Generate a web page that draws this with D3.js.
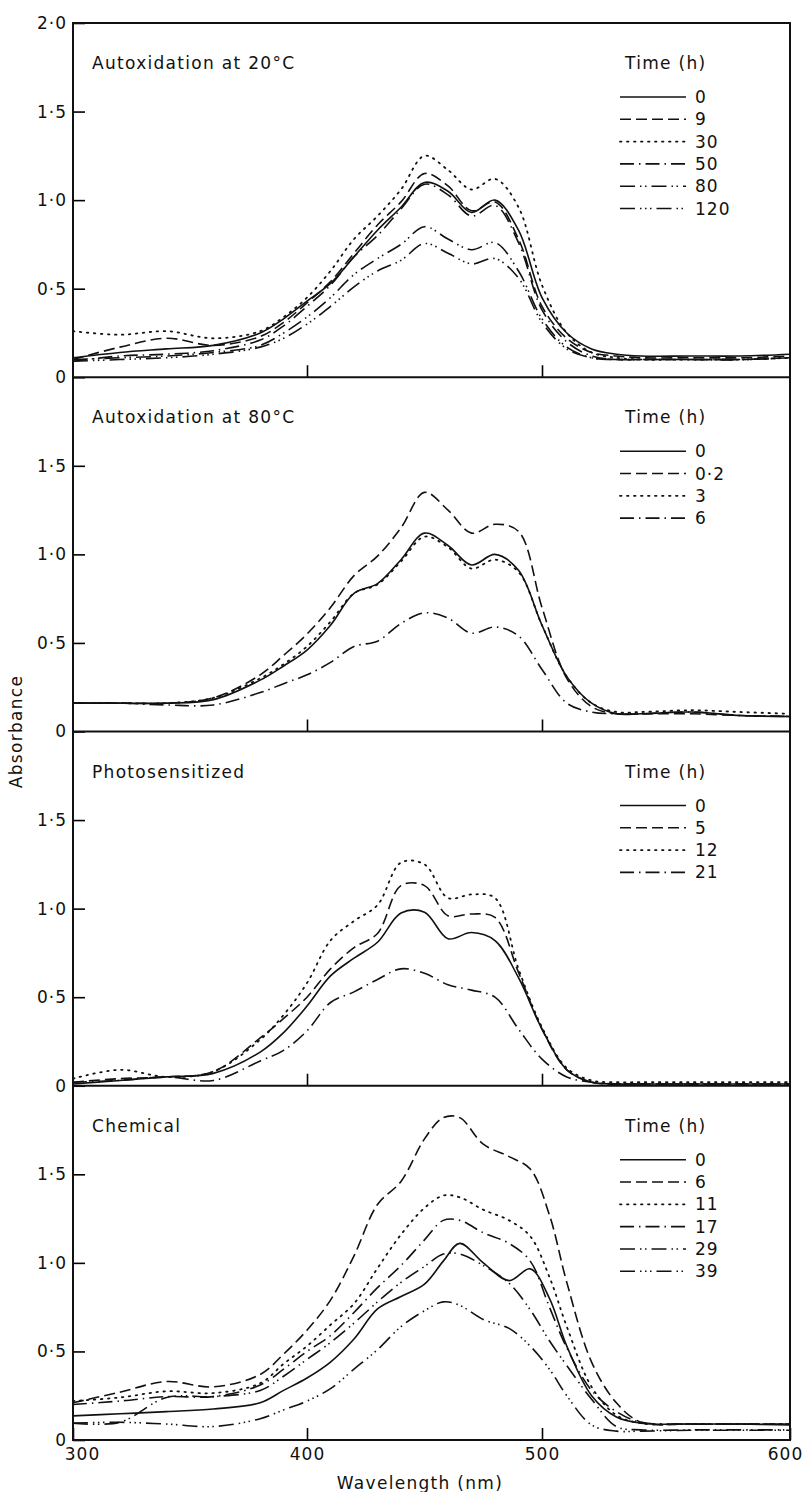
<!DOCTYPE html>
<html>
<head>
<meta charset="utf-8">
<title>Carotenoid bleaching spectra</title>
<script src="https://cdn.jsdelivr.net/npm/d3@7"></script>
<style>
body { margin: 0; background: #fff; }
text { font-family: "DejaVu Sans", sans-serif; fill: #111; }
</style>
</head>
<body>
<script>

// wavelength grid (nm) the curves were read at
var wl = [300, 320, 340, 360, 380, 390, 400, 410, 420, 430, 440, 450, 460, 470, 480, 490, 500, 510, 520, 530, 540, 560, 580, 600];
// chemical panel peaks sit off the 10 nm grid, so it gets its own
var wlChem = [300, 320, 340, 360, 380, 390, 400, 410, 420, 430, 440, 450, 458, 465, 475, 486, 495, 503, 510, 520, 530, 540, 560, 580, 600];

var titles = ["Autoxidation at 20\u00b0C", "Autoxidation at 80\u00b0C", "Photosensitized", "Chemical"];

var times20 = ["0", "9", "30", "50", "80", "120"];
var times80 = ["0", "0\u00b72", "3", "6"];
var timesPhoto = ["0", "5", "12", "21"];
var timesChem = ["0", "6", "11", "17", "29", "39"];

// absorbance, one row per time
var auto20 = [
    [0.11, 0.14, 0.16, 0.18, 0.25, 0.33, 0.43, 0.53, 0.68, 0.83, 0.96, 1.10, 1.05, 0.93, 1.00, 0.83, 0.45, 0.25, 0.16, 0.13, 0.12, 0.12, 0.12, 0.13],
    [0.10, 0.17, 0.22, 0.18, 0.23, 0.31, 0.42, 0.54, 0.70, 0.86, 0.99, 1.15, 1.08, 0.94, 0.99, 0.78, 0.40, 0.22, 0.14, 0.12, 0.11, 0.11, 0.11, 0.12],
    [0.26, 0.24, 0.26, 0.22, 0.26, 0.34, 0.45, 0.60, 0.78, 0.91, 1.06, 1.25, 1.17, 1.06, 1.12, 0.96, 0.52, 0.25, 0.14, 0.11, 0.10, 0.10, 0.10, 0.11],
    [0.09, 0.12, 0.13, 0.15, 0.21, 0.29, 0.40, 0.52, 0.68, 0.80, 0.95, 1.09, 1.03, 0.91, 0.97, 0.76, 0.38, 0.20, 0.12, 0.10, 0.10, 0.10, 0.10, 0.11],
    [0.10, 0.11, 0.12, 0.14, 0.18, 0.25, 0.34, 0.45, 0.58, 0.67, 0.75, 0.85, 0.78, 0.72, 0.76, 0.60, 0.33, 0.17, 0.11, 0.10, 0.10, 0.10, 0.10, 0.11],
    [0.09, 0.10, 0.11, 0.13, 0.17, 0.22, 0.30, 0.40, 0.51, 0.60, 0.66, 0.755, 0.70, 0.64, 0.67, 0.56, 0.31, 0.16, 0.11, 0.10, 0.10, 0.10, 0.10, 0.11]
];
var auto80 = [
    [0.16, 0.16, 0.16, 0.18, 0.29, 0.37, 0.46, 0.60, 0.78, 0.835, 0.97, 1.12, 1.05, 0.94, 1.00, 0.91, 0.60, 0.31, 0.16, 0.10, 0.10, 0.11, 0.09, 0.085],
    [0.16, 0.16, 0.16, 0.19, 0.32, 0.43, 0.55, 0.70, 0.88, 0.99, 1.15, 1.35, 1.25, 1.12, 1.17, 1.13, 0.70, 0.30, 0.14, 0.10, 0.10, 0.10, 0.09, 0.085],
    [0.16, 0.16, 0.16, 0.19, 0.30, 0.38, 0.48, 0.62, 0.78, 0.83, 0.96, 1.10, 1.04, 0.92, 0.97, 0.90, 0.60, 0.31, 0.16, 0.11, 0.11, 0.12, 0.11, 0.10],
    [0.16, 0.16, 0.15, 0.15, 0.22, 0.27, 0.32, 0.39, 0.48, 0.51, 0.61, 0.67, 0.64, 0.555, 0.59, 0.54, 0.35, 0.16, 0.11, 0.10, 0.10, 0.11, 0.09, 0.085]
];
var photo = [
    [0.01, 0.03, 0.05, 0.07, 0.19, 0.30, 0.45, 0.62, 0.72, 0.81, 0.975, 0.98, 0.83, 0.865, 0.82, 0.61, 0.32, 0.09, 0.02, 0.01, 0.01, 0.01, 0.01, 0.01],
    [0.02, 0.04, 0.05, 0.08, 0.27, 0.38, 0.50, 0.66, 0.78, 0.86, 1.13, 1.13, 0.96, 0.97, 0.95, 0.64, 0.32, 0.09, 0.02, 0.01, 0.01, 0.01, 0.01, 0.01],
    [0.04, 0.09, 0.05, 0.08, 0.26, 0.40, 0.58, 0.82, 0.93, 1.02, 1.26, 1.25, 1.06, 1.08, 1.06, 0.66, 0.33, 0.10, 0.03, 0.02, 0.02, 0.02, 0.02, 0.02],
    [0.02, 0.03, 0.05, 0.03, 0.14, 0.20, 0.31, 0.47, 0.53, 0.60, 0.66, 0.635, 0.57, 0.54, 0.50, 0.32, 0.15, 0.05, 0.02, 0.01, 0.01, 0.01, 0.01, 0.01]
];
var chem = [
    [0.136, 0.148, 0.16, 0.175, 0.21, 0.28, 0.35, 0.44, 0.57, 0.74, 0.81, 0.88, 1.01, 1.11, 1.00, 0.90, 0.966, 0.80, 0.53, 0.25, 0.13, 0.095, 0.09, 0.09, 0.085],
    [0.21, 0.27, 0.33, 0.30, 0.37, 0.485, 0.62, 0.79, 1.04, 1.33, 1.46, 1.70, 1.82, 1.82, 1.67, 1.60, 1.53, 1.27, 0.89, 0.44, 0.21, 0.10, 0.09, 0.09, 0.09],
    [0.22, 0.24, 0.275, 0.265, 0.32, 0.43, 0.53, 0.65, 0.77, 0.97, 1.16, 1.31, 1.38, 1.37, 1.30, 1.24, 1.15, 0.92, 0.64, 0.30, 0.14, 0.095, 0.09, 0.09, 0.09],
    [0.20, 0.22, 0.245, 0.245, 0.31, 0.40, 0.50, 0.59, 0.72, 0.86, 0.985, 1.13, 1.24, 1.24, 1.17, 1.11, 1.01, 0.75, 0.52, 0.28, 0.16, 0.10, 0.09, 0.09, 0.09],
    [0.095, 0.10, 0.24, 0.245, 0.28, 0.36, 0.455, 0.55, 0.66, 0.78, 0.89, 0.98, 1.05, 1.05, 0.985, 0.885, 0.735, 0.56, 0.42, 0.23, 0.076, 0.057, 0.057, 0.057, 0.057],
    [0.095, 0.10, 0.09, 0.076, 0.12, 0.17, 0.22, 0.29, 0.40, 0.51, 0.64, 0.73, 0.78, 0.76, 0.68, 0.63, 0.53, 0.40, 0.25, 0.085, 0.05, 0.05, 0.055, 0.055, 0.055]
];

var panels = [
    {title: titles[0], times: times20, wl: wl, rows: auto20},
    {title: titles[1], times: times80, wl: wl, rows: auto80},
    {title: titles[2], times: timesPhoto, wl: wl, rows: photo},
    {title: titles[3], times: timesChem, wl: wlChem, rows: chem}
];

// solid, dashed, dotted, dash-dot, dash-dot-dot, dash-dot-dot-dot
var dashes = ["none", "11,5", "1.5,5.5", "14,5,1.5,5", "15,5,1.5,3.5,1.5,5", "15,5,1.5,3.5,1.5,3.5,1.5,5"];

var w = 806, h = 1492;
var plotLeft = 73, plotRight = 790, plotTop = 23, plotBottom = 1440;
var panelH = (plotBottom - plotTop) / 4;

// the printed scale runs a little long past 500 nm
var x = d3.scaleLinear()
    .domain([300, 400, 500, 600])
    .range([plotLeft, 307, 542, plotRight]);

var svg = d3.select("body").append("svg")
    .attr("width", w)
    .attr("height", h);

var fmt = function(d) { return d === 0 ? "0" : d.toFixed(1).replace(".", "\u00b7"); };

panels.forEach(function(p, i) {
    var top = plotTop + i * panelH;
    var y = d3.scaleLinear().domain([0, 2]).range([top + panelH, top]);
    var g = svg.append("g");

    var yAxis = d3.axisLeft(y)
        .tickValues(i === 0 ? [0, 0.5, 1, 1.5, 2] : [0, 0.5, 1, 1.5])
        .tickSize(-12)
        .tickPadding(6)
        .tickFormat(fmt);
    var ya = g.append("g")
        .attr("transform", "translate(" + plotLeft + ",0)")
        .call(yAxis);
    ya.select(".domain").remove();
    ya.attr("font-size", 17).attr("font-family", null);
    ya.selectAll("line").attr("stroke-width", 1.6);
    ya.selectAll("text").attr("letter-spacing", 1);

    var last = i === panels.length - 1;
    var xAxis = d3.axisBottom(x)
        .tickValues(last ? [300, 400, 500, 600] : [400, 500])
        .tickSize(-12)
        .tickPadding(8)
        .tickFormat(last ? d3.format("d") : "");
    var xa = g.append("g")
        .attr("transform", "translate(0," + (top + panelH) + ")")
        .call(xAxis);
    xa.select(".domain").remove();
    xa.attr("font-size", 17).attr("font-family", null);
    xa.selectAll("line").attr("stroke-width", 1.6);
    xa.selectAll("text")
        .attr("letter-spacing", 1)
        .attr("dx", function(d) { return d === 300 ? 9 : (d === 600 ? -5 : 0); });

    var line = d3.line()
        .x(function(d, k) { return x(p.wl[k]); })
        .y(function(d) { return y(d); })
        .curve(d3.curveCatmullRom.alpha(0.5));

    p.rows.forEach(function(vals, k) {
        g.append("path")
            .datum(vals)
            .attr("d", line)
            .attr("fill", "none")
            .attr("stroke", "#111")
            .attr("stroke-width", k === 2 ? 1.8 : 1.6)
            .attr("stroke-linecap", k === 2 ? "round" : "butt")
            .attr("stroke-dasharray", dashes[k]);
    });

    g.append("text")
        .attr("x", 92)
        .attr("y", top + 46)
        .attr("font-size", 17)
        .attr("letter-spacing", 1.3)
        .text(p.title);

    var lg = g.append("g").attr("transform", "translate(620," + top + ")");
    lg.append("text")
        .attr("x", 5)
        .attr("y", 46)
        .attr("font-size", 17)
        .attr("letter-spacing", 1.3)
        .text("Time (h)");
    p.times.forEach(function(t, k) {
        var ry = 74 + k * 22.3;
        lg.append("line")
            .attr("x1", 0).attr("x2", 66)
            .attr("y1", ry).attr("y2", ry)
            .attr("stroke", "#111")
            .attr("stroke-width", k === 2 ? 1.8 : 1.6)
            .attr("stroke-linecap", k === 2 ? "round" : "butt")
            .attr("stroke-dasharray", dashes[k]);
        lg.append("text")
            .attr("x", 75)
            .attr("y", ry + 6)
            .attr("font-size", 17)
            .attr("letter-spacing", 1)
            .text(t);
    });

    if (i > 0) {
        svg.append("line")
            .attr("x1", plotLeft).attr("x2", plotRight)
            .attr("y1", top).attr("y2", top)
            .attr("stroke", "#111")
            .attr("stroke-width", 2);
    }
});

svg.append("rect")
    .attr("x", plotLeft)
    .attr("y", plotTop)
    .attr("width", plotRight - plotLeft)
    .attr("height", plotBottom - plotTop)
    .attr("fill", "none")
    .attr("stroke", "#111")
    .attr("stroke-width", 2);

svg.append("text")
    .attr("transform", "translate(22," + ((plotTop + plotBottom) / 2) + ") rotate(-90)")
    .attr("text-anchor", "middle")
    .attr("font-size", 17)
    .attr("letter-spacing", 1.3)
    .text("Absorbance");

svg.append("text")
    .attr("x", 420)
    .attr("y", 1489)
    .attr("text-anchor", "middle")
    .attr("font-size", 17)
    .attr("letter-spacing", 1.3)
    .text("Wavelength (nm)");

</script>
</body>
</html>
